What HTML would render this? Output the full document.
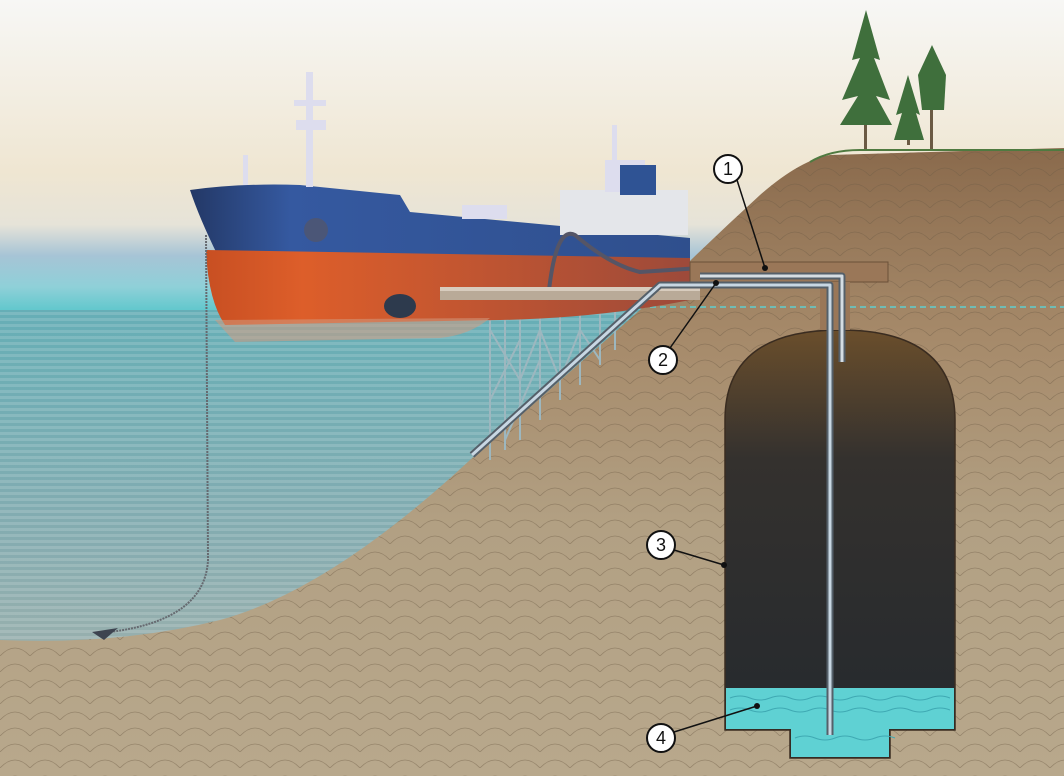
<!DOCTYPE html>
<html><head><meta charset="utf-8"><style>html,body{margin:0;padding:0;width:1064px;height:776px;overflow:hidden;background:#f5f4f0}</style></head>
<body>
<svg width="1064" height="776" viewBox="0 0 1064 776" xmlns="http://www.w3.org/2000/svg">
<defs>
<linearGradient id="sky" x1="0" y1="0" x2="0" y2="1">
<stop offset="0" stop-color="#f7f7f5"/><stop offset="0.55" stop-color="#efe6d2"/><stop offset="0.72" stop-color="#e6e3d8"/><stop offset="0.82" stop-color="#a6c4d6"/><stop offset="0.92" stop-color="#8fd0d8"/><stop offset="1" stop-color="#5ec7cc"/>
</linearGradient>
<linearGradient id="water" x1="0" y1="0" x2="0" y2="1">
<stop offset="0" stop-color="#66aeb6"/><stop offset="0.5" stop-color="#86acb0"/><stop offset="1" stop-color="#aeb4aa"/>
</linearGradient>
<linearGradient id="ground" x1="0" y1="0" x2="0" y2="1">
<stop offset="0" stop-color="#8a6a4c"/><stop offset="0.3" stop-color="#a68a6a"/><stop offset="0.6" stop-color="#b2a083"/><stop offset="1" stop-color="#b8a88c"/>
</linearGradient>
<linearGradient id="cave" x1="0" y1="0" x2="0" y2="1">
<stop offset="0" stop-color="#6a4e2c"/><stop offset="0.3" stop-color="#34312e"/><stop offset="1" stop-color="#24292e"/>
</linearGradient>
<linearGradient id="hullB" x1="0" y1="0" x2="1" y2="0">
<stop offset="0" stop-color="#233866"/><stop offset="0.2" stop-color="#3559a0"/><stop offset="1" stop-color="#2f4f8d"/>
</linearGradient>
<linearGradient id="hullR" x1="0" y1="0" x2="1" y2="0">
<stop offset="0" stop-color="#c84f22"/><stop offset="0.2" stop-color="#dd5e2a"/><stop offset="1" stop-color="#9d4a3a"/>
</linearGradient>
<pattern id="lines" width="6" height="6" patternUnits="userSpaceOnUse"><rect width="6" height="3" fill="#ffffff" opacity="0.14"/></pattern>
<pattern id="scales" width="30" height="16" patternUnits="userSpaceOnUse"><path d="M0 16 Q15 0 30 16" fill="none" stroke="#6d5a44" stroke-width="0.8" opacity="0.45"/></pattern>
</defs>
<rect width="1064" height="312" fill="url(#sky)"/>
<rect y="310" width="1064" height="466" fill="url(#water)"/>
<rect y="310" width="700" height="340" fill="url(#lines)"/>
<g fill="#3f6f3c">
<rect x="864" y="30" width="3" height="120" fill="#6b5a44"/>
<path d="M866 10 L852 60 L860 58 L842 100 L858 96 L840 125 L892 125 L876 96 L890 100 L874 58 L880 60 Z"/>
<rect x="907" y="90" width="3" height="55" fill="#6b5a44"/>
<path d="M908 75 L896 115 L902 113 L894 140 L924 140 L916 113 L920 115 Z"/>
<rect x="930" y="60" width="3" height="90" fill="#6b5a44"/>
<path d="M932 45 L918 75 L922 110 L944 110 L946 75 Z"/>
</g>
<path d="M0 640 Q120 645 220 620 Q330 590 470 460 L640 310 Q700 250 760 195 Q800 160 830 155 L1064 148 L1064 776 L0 776 Z" fill="url(#ground)"/>
<path d="M0 640 Q120 645 220 620 Q330 590 470 460 L640 310 Q700 250 760 195 Q800 160 830 155 L1064 148 L1064 776 L0 776 Z" fill="url(#scales)"/>
<path d="M810 162 Q830 150 860 150 L1064 150" stroke="#4f7a40" stroke-width="2" fill="none"/>
<line x1="640" y1="307" x2="1064" y2="307" stroke="#5ecfd0" stroke-width="1.5" stroke-dasharray="6,4"/>
<path d="M725 420 Q725 330 840 330 Q955 330 955 420 L955 730 L890 730 L890 758 L790 758 L790 730 L725 730 Z" fill="url(#cave)" stroke="#3a2c20" stroke-width="1.5"/>
<path d="M726 688 L954 688 L954 729 L889 729 L889 757 L791 757 L791 729 L726 729 Z" fill="#5fd1d3"/>
<g stroke="#3fa9b3" fill="none" stroke-width="1">
<path d="M730 698 q10 -4 20 0 t20 0 t20 0 t20 0 t20 0 t20 0 t20 0 t20 0 t20 0 t20 0 t20 0"/>
<path d="M730 710 q10 -4 20 0 t20 0 t20 0 t20 0 t20 0 t20 0 t20 0 t20 0 t20 0 t20 0 t20 0"/>
<path d="M795 738 q10 -4 20 0 t20 0 t20 0 t20 0 t20 0"/>
</g>
<g stroke="#9db7bf" stroke-width="2">
<line x1="490" y1="300" x2="490" y2="460"/><line x1="505" y1="300" x2="505" y2="450"/><line x1="520" y1="300" x2="520" y2="440"/><line x1="540" y1="300" x2="540" y2="420"/><line x1="560" y1="300" x2="560" y2="400"/><line x1="580" y1="300" x2="580" y2="385"/><line x1="600" y1="300" x2="600" y2="365"/><line x1="615" y1="300" x2="615" y2="350"/>
<path d="M490 330 L520 380 L540 330 L560 380 L580 330 L600 360 M490 400 L520 340 M505 440 L540 360" fill="none"/>
</g>
<path d="M190 190 Q240 183 300 185 L400 195 L410 212 L690 238 L690 260 L220 260 Q200 220 190 190 Z" fill="url(#hullB)"/>
<path d="M206 250 L690 258 L690 300 Q600 318 500 320 L225 325 Q208 300 206 250 Z" fill="url(#hullR)"/>
<path d="M215 320 L490 318 Q470 335 440 338 L235 342 Z" fill="#d29a80" opacity="0.55"/>
<rect x="306" y="72" width="7" height="115" fill="#dde"/>
<rect x="294" y="100" width="32" height="6" fill="#dde"/>
<rect x="296" y="120" width="30" height="10" fill="#dde"/>
<rect x="243" y="155" width="5" height="30" fill="#dde"/>
<rect x="560" y="190" width="128" height="45" fill="#e4e6ea"/>
<rect x="605" y="160" width="40" height="32" fill="#dde"/>
<rect x="620" y="165" width="36" height="30" fill="#2f5394"/>
<rect x="612" y="125" width="5" height="40" fill="#dde"/>
<rect x="462" y="205" width="45" height="14" fill="#dde"/>
<circle cx="316" cy="230" r="12" fill="#556" opacity="0.7"/>
<ellipse cx="400" cy="306" rx="16" ry="12" fill="#2d3a4d"/>
<path d="M548 300 Q555 225 575 235 Q610 265 640 272 L700 268" stroke="#556" stroke-width="4" fill="none"/>
<path d="M206 235 L208 560 Q205 620 110 632" stroke="#666a70" stroke-width="2" stroke-dasharray="2,1" fill="none"/>
<path d="M92 632 L118 628 L104 640 Z" fill="#3e4450"/>
<rect x="440" y="287" width="260" height="13" fill="#b9aa98"/>
<rect x="440" y="287" width="260" height="4" fill="#d8ccbe"/>
<rect x="690" y="262" width="198" height="20" fill="#9a7758" stroke="#6b5038"/>
<rect x="820" y="282" width="30" height="48" fill="#9a7758"/>
<g fill="none" stroke-linejoin="round">
<path d="M700 276 L842 276 L842 362" stroke="#55606a" stroke-width="7"/>
<path d="M700 276 L842 276 L842 362" stroke="#d5dde3" stroke-width="3"/>
<path d="M472 455 L660 285 L830 285 L830 735" stroke="#55606a" stroke-width="7"/>
<path d="M472 455 L660 285 L830 285 L830 735" stroke="#c8d7e3" stroke-width="3"/>
</g>
<g stroke="#111" stroke-width="1.5" fill="none">
<line x1="737" y1="180" x2="765" y2="268"/>
<line x1="670" y1="348" x2="716" y2="283"/>
<line x1="674" y1="550" x2="724" y2="565"/>
<line x1="674" y1="732" x2="757" y2="706"/>
</g>
<g fill="#111"><circle cx="765" cy="268" r="3"/><circle cx="716" cy="283" r="3"/><circle cx="724" cy="565" r="3"/><circle cx="757" cy="706" r="3"/></g>
<g fill="#fff" stroke="#111" stroke-width="2">
<circle cx="728" cy="169" r="14"/><circle cx="663" cy="360" r="14"/><circle cx="661" cy="545" r="14"/><circle cx="661" cy="738" r="14"/>
</g>
<g font-family="Liberation Sans, sans-serif" font-size="18" text-anchor="middle" fill="#111">
<text x="728" y="175">1</text><text x="663" y="366">2</text><text x="661" y="551">3</text><text x="661" y="744">4</text>
</g>
</svg>
</body></html>
